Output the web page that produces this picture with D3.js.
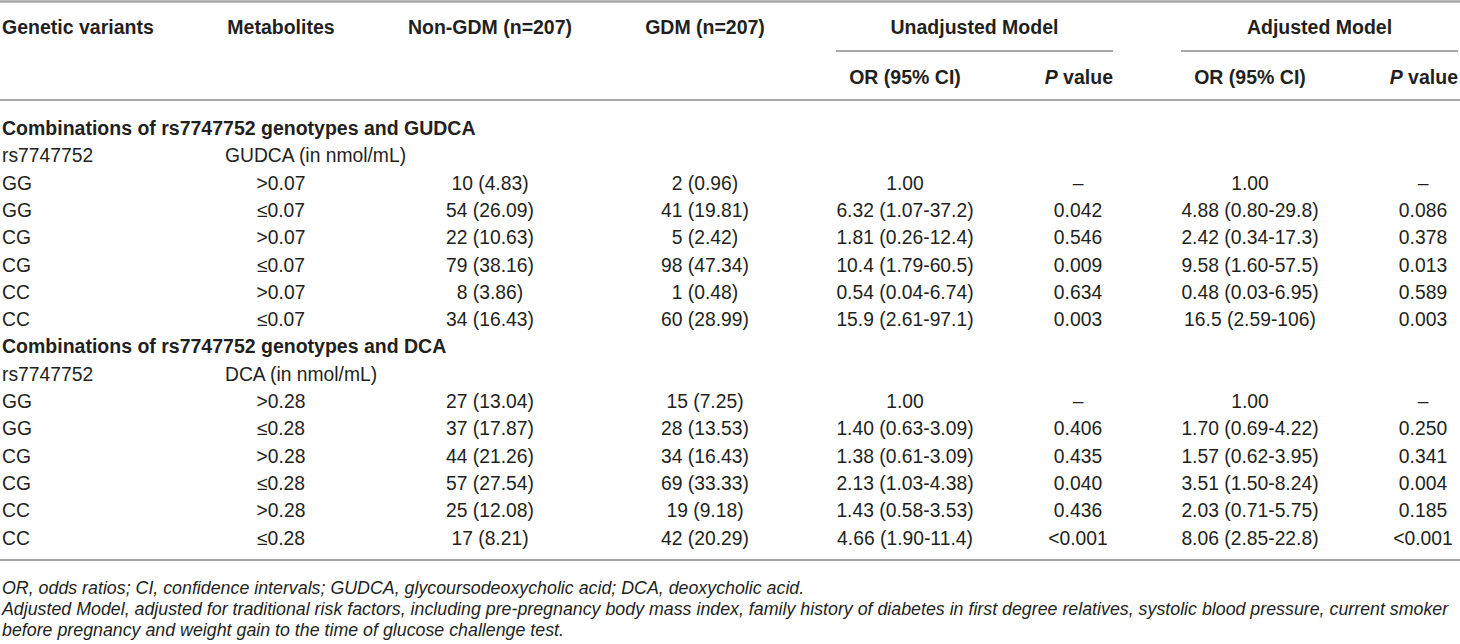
<!DOCTYPE html>
<html>
<head>
<meta charset="utf-8">
<script src="https://cdn.jsdelivr.net/npm/d3@7"></script>
<style>
  html, body { margin: 0; padding: 0; background: #fff; }
  svg { display: block; }
  text { font-family: "Liberation Sans", Arial, Helvetica, sans-serif; fill: #231f20; }
</style>
</head>
<body>
<svg id="chart" width="1460" height="644"></svg>
<script>
// ---------- data ----------
const headerTop = ["Genetic variants", "Metabolites", "Non-GDM (n=207)", "GDM (n=207)"];
const modelGroups = ["Unadjusted Model", "Adjusted Model"];
const subHeaders = ["OR (95% CI)", "P value"];

const sectionTitles = ["Combinations of rs7747752 genotypes and GUDCA", "Combinations of rs7747752 genotypes and DCA"];
const sectionSubLabels = [["rs7747752", "GUDCA (in nmol/mL)"], ["rs7747752", "DCA (in nmol/mL)"]];

const genotypes = ["GG", "GG", "CG", "CG", "CC", "CC"];
const gudcaLevels = [">0.07", "≤0.07", ">0.07", "≤0.07", ">0.07", "≤0.07"];
const gudcaNonGDM = ["10 (4.83)", "54 (26.09)", "22 (10.63)", "79 (38.16)", "8 (3.86)", "34 (16.43)"];
const gudcaGDM = ["2 (0.96)", "41 (19.81)", "5 (2.42)", "98 (47.34)", "1 (0.48)", "60 (28.99)"];
const gudcaUnadjOR = ["1.00", "6.32 (1.07-37.2)", "1.81 (0.26-12.4)", "10.4 (1.79-60.5)", "0.54 (0.04-6.74)", "15.9 (2.61-97.1)"];
const gudcaUnadjP = ["–", "0.042", "0.546", "0.009", "0.634", "0.003"];
const gudcaAdjOR = ["1.00", "4.88 (0.80-29.8)", "2.42 (0.34-17.3)", "9.58 (1.60-57.5)", "0.48 (0.03-6.95)", "16.5 (2.59-106)"];
const gudcaAdjP = ["–", "0.086", "0.378", "0.013", "0.589", "0.003"];

const dcaLevels = [">0.28", "≤0.28", ">0.28", "≤0.28", ">0.28", "≤0.28"];
const dcaNonGDM = ["27 (13.04)", "37 (17.87)", "44 (21.26)", "57 (27.54)", "25 (12.08)", "17 (8.21)"];
const dcaGDM = ["15 (7.25)", "28 (13.53)", "34 (16.43)", "69 (33.33)", "19 (9.18)", "42 (20.29)"];
const dcaUnadjOR = ["1.00", "1.40 (0.63-3.09)", "1.38 (0.61-3.09)", "2.13 (1.03-4.38)", "1.43 (0.58-3.53)", "4.66 (1.90-11.4)"];
const dcaUnadjP = ["–", "0.406", "0.435", "0.040", "0.436", "<0.001"];
const dcaAdjOR = ["1.00", "1.70 (0.69-4.22)", "1.57 (0.62-3.95)", "3.51 (1.50-8.24)", "2.03 (0.71-5.75)", "8.06 (2.85-22.8)"];
const dcaAdjP = ["–", "0.250", "0.341", "0.004", "0.185", "<0.001"];

const footnotes = [
  "OR, odds ratios; CI, confidence intervals; GUDCA, glycoursodeoxycholic acid; DCA, deoxycholic acid.",
  "Adjusted Model, adjusted for traditional risk factors, including pre-pregnancy body mass index, family history of diabetes in first degree relatives, systolic blood pressure, current smoker",
  "before pregnancy and weight gain to the time of glucose challenge test."
];

// ---------- build row table ----------
const colKeys = ["geno", "metab", "non", "gdm", "uor", "up", "aor", "ap"];
function sectionRows(title, sub, levels, non, gdm, uor, up, aor, ap) {
  const rows = [{type: "section", text: title}, {type: "sub", geno: sub[0], metab: sub[1]}];
  genotypes.forEach((g, i) => rows.push({
    type: "data", geno: g, metab: levels[i], non: non[i], gdm: gdm[i],
    uor: uor[i], up: up[i], aor: aor[i], ap: ap[i]
  }));
  return rows;
}
const rows = [
  ...sectionRows(sectionTitles[0], sectionSubLabels[0], gudcaLevels, gudcaNonGDM, gudcaGDM, gudcaUnadjOR, gudcaUnadjP, gudcaAdjOR, gudcaAdjP),
  ...sectionRows(sectionTitles[1], sectionSubLabels[1], dcaLevels, dcaNonGDM, dcaGDM, dcaUnadjOR, dcaUnadjP, dcaAdjOR, dcaAdjP)
];

// ---------- layout ----------
const W = 1460;
const svg = d3.select("#chart");
const bodyFont = 19.3, headFont = 19.5;
const lineColor = "#a7a7a7";

const colX = d3.scaleOrdinal().domain(colKeys).range([2, 281, 490, 705, 905, 1078, 1250, 1423]);
const groupSpan = d3.scaleOrdinal().domain(modelGroups).range([[836, 1113], [1181, 1458]]);

const rowY = d3.scalePoint().domain(d3.range(rows.length)).range([128, 537.5]);

function hline(x1, x2, y, w) {
  svg.append("line").attr("x1", x1).attr("x2", x2).attr("y1", y).attr("y2", y)
    .attr("stroke", lineColor).attr("stroke-width", w);
}

// rules
hline(0, W, 1.5, 2.5);
modelGroups.forEach(g => { const s = groupSpan(g); hline(s[0], s[1], 51, 2); });
hline(0, W, 100, 2);
hline(0, W, 560, 2);

const baseOff = 7; // center -> baseline

// header row 1
const head1 = svg.append("g").attr("font-weight", "bold").attr("font-size", headFont);
head1.append("text").attr("x", colX("geno")).attr("y", 27 + baseOff).text(headerTop[0]);
[["metab", 1], ["non", 2], ["gdm", 3]].forEach(([k, i]) => {
  head1.append("text").attr("x", colX(k)).attr("y", 27 + baseOff).attr("text-anchor", "middle").text(headerTop[i]);
});
modelGroups.forEach(g => {
  const s = groupSpan(g);
  head1.append("text").attr("x", (s[0] + s[1]) / 2).attr("y", 27 + baseOff).attr("text-anchor", "middle").text(g);
});

// header row 2
[["uor", "up", 0], ["aor", "ap", 1]].forEach(([ork, pk, gi]) => {
  const s = groupSpan(modelGroups[gi]);
  head1.append("text").attr("x", colX(ork)).attr("y", 77 + baseOff).attr("text-anchor", "middle").text(subHeaders[0]);
  const t = head1.append("text").attr("x", s[1]).attr("y", 77 + baseOff).attr("text-anchor", "end");
  t.append("tspan").attr("font-style", "italic").text("P");
  t.append("tspan").text(" value");
});

// body rows
const body = svg.append("g").attr("font-size", bodyFont);
rows.forEach((r, i) => {
  const y = rowY(i) + baseOff;
  if (r.type === "section") {
    body.append("text").attr("x", colX("geno")).attr("y", y).attr("font-weight", "bold").attr("font-size", headFont).text(r.text);
  } else if (r.type === "sub") {
    body.append("text").attr("x", colX("geno")).attr("y", y).text(r.geno);
    body.append("text").attr("x", 225).attr("y", y).text(r.metab);
  } else {
    body.append("text").attr("x", colX("geno")).attr("y", y).text(r.geno);
    colKeys.slice(1).forEach(k => {
      body.append("text").attr("x", colX(k)).attr("y", y).attr("text-anchor", "middle").text(r[k]);
    });
  }
});

// footnotes: size chosen so the long second line ends near the right edge
const notes = svg.append("g").attr("font-style", "italic").attr("font-size", 18);
const noteY = d3.scalePoint().domain(d3.range(footnotes.length)).range([587, 629]);
const noteTexts = footnotes.map((f, i) =>
  notes.append("text").attr("x", 2).attr("y", noteY(i) + 6.5).text(f));
const longest = noteTexts[1].node().getComputedTextLength();
const fitSize = 18 * 1448 / longest;
notes.attr("font-size", Math.min(18.5, fitSize));
</script>
</body>
</html>
